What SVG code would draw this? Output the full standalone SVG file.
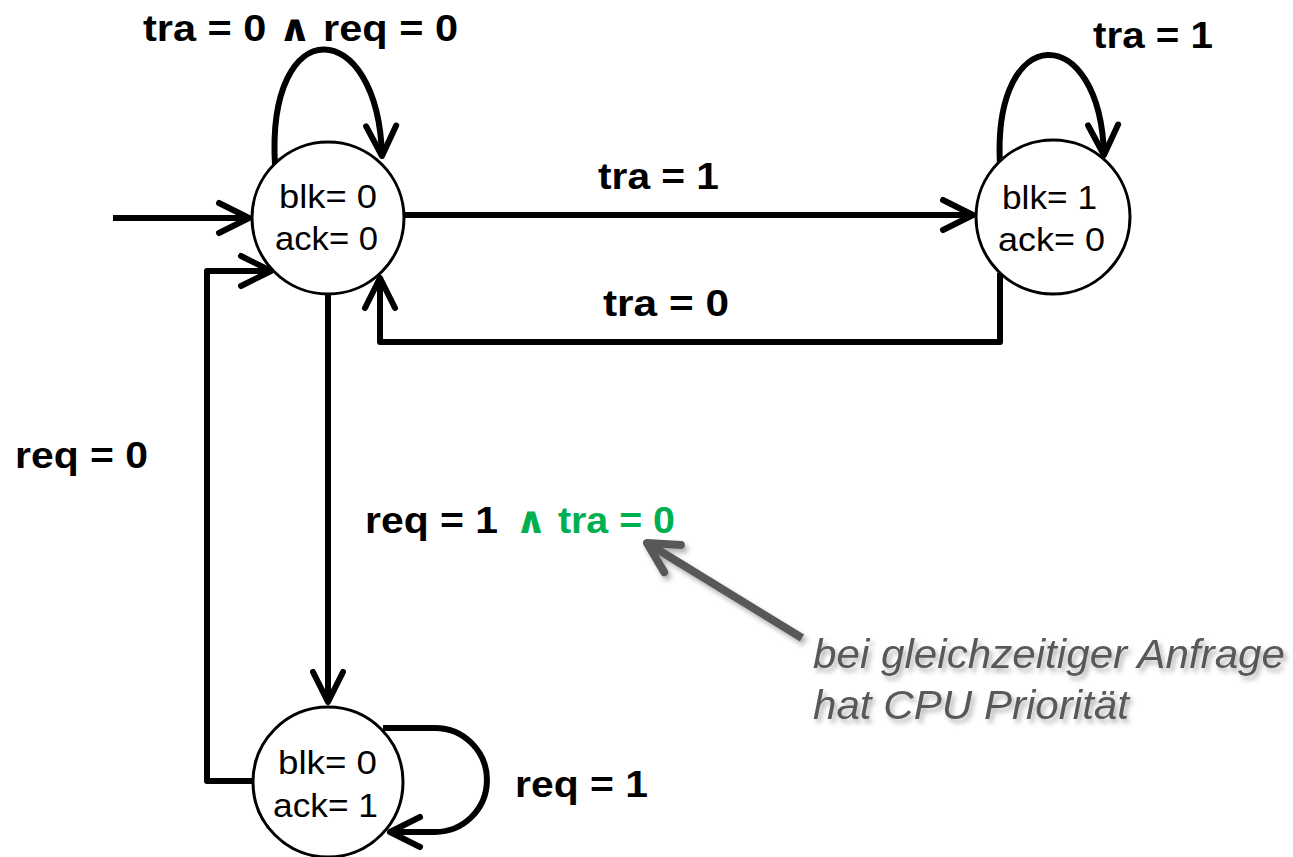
<svg xmlns="http://www.w3.org/2000/svg" width="1293" height="857" viewBox="0 0 1293 857">
<style>
.conn{fill:none;stroke:#000;stroke-width:6;stroke-linejoin:round}
.node{fill:#fff;stroke:#000;stroke-width:3}
.nt{font-family:"Liberation Sans",Arial,sans-serif;font-size:34px;fill:#000}
.lbl{font-family:"Liberation Sans","DejaVu Sans",Arial,sans-serif;font-size:37px;font-weight:bold;fill:#000}
.grn{fill:#00B050}
.note{font-family:"Liberation Sans",Arial,sans-serif;font-size:40px;font-style:italic;fill:#595959}
</style>
<defs>
<marker id="ah" markerUnits="userSpaceOnUse" markerWidth="40" markerHeight="40" viewBox="-36 -20 40 40" refX="0" refY="0" orient="auto" overflow="visible">
<path d="M-30,-15 L0,0 L-30,15" fill="none" stroke="#000" stroke-width="6" stroke-linecap="round" stroke-linejoin="round"/>
</marker>
<marker id="ahg" markerUnits="userSpaceOnUse" markerWidth="40" markerHeight="40" viewBox="-36 -20 40 40" refX="0" refY="0" orient="auto" overflow="visible">
<path d="M-30,-16 L0,0 L-30,16" fill="none" stroke="#595959" stroke-width="8" stroke-linecap="round" stroke-linejoin="round"/>
</marker>
<filter id="sh" x="-20%" y="-50%" width="140%" height="200%">
<feDropShadow dx="3" dy="4" stdDeviation="2.5" flood-color="#000" flood-opacity="0.3"/>
</filter>
</defs>
<rect width="1293" height="857" fill="#fff"/>
<g id="connectors">
<path class="conn" d="M113,218 L249,218" marker-end="url(#ah)"/>
<path class="conn" d="M275,165 C266,10 378,15 382,156" marker-end="url(#ah)"/>
<path class="conn" d="M1000,165 C992,20 1100,20 1104,155" marker-end="url(#ah)"/>
<path class="conn" d="M405,215 L973,215" marker-end="url(#ah)"/>
<path class="conn" d="M1000,273 L1000,342 L380,342 L380,278" marker-end="url(#ah)"/>
<path class="conn" d="M328,294 L328,702" marker-end="url(#ah)"/>
<path class="conn" d="M252,781 L207,781 L207,271 L271,271" marker-end="url(#ah)"/>
<path class="conn" d="M383,728 L435,728 A52,52 0 0 1 435,832 L390,832" marker-end="url(#ah)"/>
</g>
<g id="n1">
<circle class="node" cx="328" cy="218" r="76"/>
<text class="nt" x="279" y="208" textLength="98" lengthAdjust="spacingAndGlyphs">blk= 0</text>
<text class="nt" x="275" y="250" textLength="103" lengthAdjust="spacingAndGlyphs">ack= 0</text>
</g>
<g id="n2">
<circle class="node" cx="1053" cy="217" r="77"/>
<text class="nt" x="1002" y="209" textLength="95" lengthAdjust="spacingAndGlyphs">blk= 1</text>
<text class="nt" x="998" y="251" textLength="107" lengthAdjust="spacingAndGlyphs">ack= 0</text>
</g>
<g id="n3">
<circle class="node" cx="328" cy="782" r="75"/>
<text class="nt" x="278" y="774" textLength="99" lengthAdjust="spacingAndGlyphs">blk= 0</text>
<text class="nt" x="273" y="817" textLength="105" lengthAdjust="spacingAndGlyphs">ack= 1</text>
</g>
<g id="labels">
<text class="lbl" x="143" y="41" textLength="315" lengthAdjust="spacingAndGlyphs">tra = 0 ∧ req = 0</text>
<text class="lbl" x="1093" y="48" textLength="120" lengthAdjust="spacingAndGlyphs">tra = 1</text>
<text class="lbl" x="598" y="189" textLength="121" lengthAdjust="spacingAndGlyphs">tra = 1</text>
<text class="lbl" x="603" y="316" textLength="126" lengthAdjust="spacingAndGlyphs">tra = 0</text>
<text class="lbl" x="15" y="468" textLength="133" lengthAdjust="spacingAndGlyphs">req = 0</text>
<text class="lbl" x="365" y="533" textLength="133" lengthAdjust="spacingAndGlyphs">req = 1</text>
<text class="lbl grn" x="515" y="533" textLength="160" lengthAdjust="spacingAndGlyphs">∧ tra = 0</text>
<text class="lbl" x="515" y="797" textLength="133" lengthAdjust="spacingAndGlyphs">req = 1</text>
</g>
<g id="note" filter="url(#sh)">
<path d="M802,638 L647,543" fill="none" stroke="#595959" stroke-width="8" marker-end="url(#ahg)"/>
<text class="note" x="813" y="668" textLength="472" lengthAdjust="spacingAndGlyphs">bei gleichzeitiger Anfrage</text>
<text class="note" x="813" y="719" textLength="316" lengthAdjust="spacingAndGlyphs">hat CPU Priorität</text>
</g>
</svg>
